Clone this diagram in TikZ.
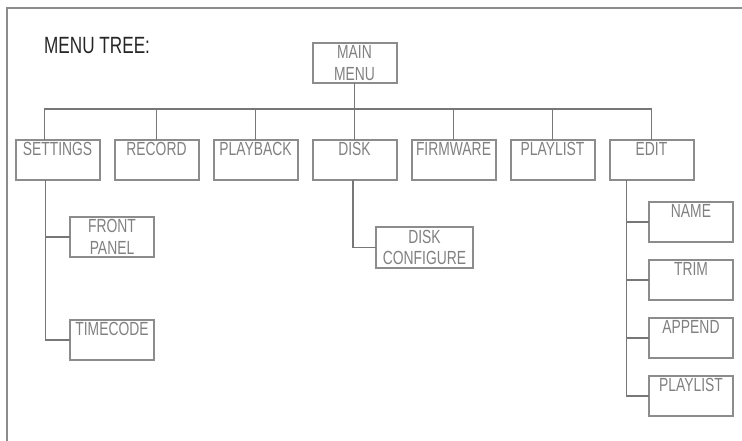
\documentclass[tikz,border=0pt]{standalone}
\usepackage{fontspec}
\setmainfont{Liberation Sans}[FakeStretch=0.73]
\usetikzlibrary{positioning,calc}
\definecolor{boxgray}{HTML}{8C8C8C}
\definecolor{wiregray}{HTML}{777777}
\definecolor{textgray}{HTML}{808080}

\begin{document}
\begin{tikzpicture}[x=1pt, y=-1pt,
			menu/.style={rectangle, draw=boxgray, line width=2pt, outer sep=0pt, minimum width=84pt, minimum height=40pt, inner sep=2pt, text=textgray, font=\fontsize{19}{21.5}\selectfont},
			leaf/.style={menu, text height=13.5pt, text depth=22.5pt},
			twoline/.style={menu, align=center},
			wire/.style={draw=wiregray, line width=1.4pt},
			frame/.style={draw=boxgray, line width=2pt}]
			\useasboundingbox (0,0) rectangle (742,441);
			\draw[frame] (7,441) -- (7,8) -- (742,8);
			\node[anchor=base west, inner sep=0pt, font=\fontsize{23.5}{28}\selectfont, text=black!85] (title) at (44,54) {MENU TREE:};
			\node[twoline] (main) at (354.5,63) {MAIN\\MENU};
			% first level
			\node[leaf] (settings) at (57.5,160) {SETTINGS};
			\node[leaf] (record) [right=15pt of settings] {RECORD};
			\node[leaf] (playback) [right=15pt of record] {PLAYBACK};
			\node[leaf] (disk) [right=15pt of playback] {DISK};
			\node[leaf] (firmware) [right=15pt of disk] {FIRMWARE};
			\node[leaf] (playlist) [right=15pt of firmware] {PLAYLIST};
			\node[leaf] (edit) [right=15pt of playlist] {EDIT};
			% second level
			\node[twoline] (frontpanel) [below right=37pt and -29.5pt of settings] {FRONT\\PANEL};
			\node[leaf] (timecode) [below=63pt of frontpanel] {TIMECODE};
			\node[twoline, minimum width=97pt, minimum height=41pt] (diskcfg) [below right=47pt and -20.5pt of disk] {DISK\\CONFIGURE};
			\node[leaf] (name) [below right=22pt and -44.5pt of edit] {NAME};
			\node[leaf] (trim) [below=18pt of name] {TRIM};
			\node[leaf] (append) [below=18pt of trim] {APPEND};
			\node[leaf] (edplaylist) [below=18pt of append] {PLAYLIST};
			% connectors
			\coordinate (bus) at (0,109);
			\draw[wire] (main.south) -- (main.south |- bus);
			\draw[wire] ([xshift=-13pt]settings.north) |- (edit.north |- bus) -- (edit.north);
			\foreach \c in {record,playback,disk,firmware,playlist}
				\draw[wire] (\c.north) -- (\c.north |- bus);
			\draw[wire] ([xshift=-12pt]settings.south) |- (timecode.west);
			\draw[wire] ([xshift=-12pt]settings.south) |- (frontpanel.west);
			\draw[wire] ([xshift=-1.5pt]disk.south) |- (diskcfg.west);
			\draw[wire] ([xshift=-25pt]edit.south) |- (edplaylist.west);
			\foreach \c in {name,trim,append}
				\draw[wire] ([xshift=-25pt]edit.south) |- (\c.west);
		\end{tikzpicture}
\end{document}
